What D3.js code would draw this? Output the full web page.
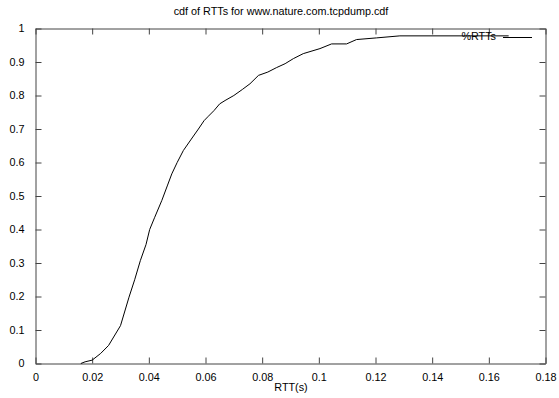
<!DOCTYPE html>
<html><head><meta charset="utf-8">
<script src="https://cdn.jsdelivr.net/npm/d3@7"></script>
<style>body{margin:0;background:#fff}svg{display:block}text{font-family:"Liberation Sans",Arial,sans-serif;font-size:10.8px;fill:#000}</style>
</head><body>
<script>
const rtt = [0.0160,0.0175,0.0200,0.0230,0.0258,0.0300,0.0330,0.0350,0.0370,0.0390,0.0403,0.0420,0.0446,0.0465,0.0481,0.0500,0.0522,0.0550,0.0575,0.0595,0.0610,0.0630,0.0650,0.0669,0.0700,0.0730,0.0757,0.0787,0.0820,0.0850,0.0881,0.0910,0.0945,0.1004,0.1045,0.1098,0.1133,0.1204,0.1286,0.1670];
const cdf = [0.000,0.005,0.010,0.030,0.054,0.113,0.198,0.250,0.307,0.355,0.400,0.435,0.487,0.530,0.566,0.600,0.636,0.670,0.700,0.725,0.738,0.755,0.775,0.785,0.800,0.818,0.835,0.860,0.870,0.883,0.895,0.910,0.925,0.940,0.954,0.954,0.967,0.972,0.978,0.978];
const xTicks = [0,0.02,0.04,0.06,0.08,0.1,0.12,0.14,0.16,0.18];
const yTicks = [0,0.1,0.2,0.3,0.4,0.5,0.6,0.7,0.8,0.9,1];
const title = "cdf of RTTs for www.nature.com.tcpdump.cdf";
const xLabel = "RTT(s)";
const seriesName = "%RTTs";

const W=559,H=398, L=35.5, R=545.5, T=28.5, B=363.5;
const FS=10.8;
const svg=d3.select("body").append("svg").attr("width",W).attr("height",H);
const x=d3.scaleLinear().domain([0,0.18]).range([L,R]);
const y=d3.scaleLinear().domain([0,1]).range([B,T]);
const axColor="#444";
const fmt=d => String(+d.toFixed(2));

const gx=svg.append("g").attr("transform",`translate(0,${B})`)
  .call(d3.axisBottom(x).tickValues(xTicks).tickFormat(fmt).tickSizeInner(-6).tickSizeOuter(0).tickPadding(10));
const gxt=svg.append("g").attr("transform",`translate(0,${T})`)
  .call(d3.axisTop(x).tickValues(xTicks).tickFormat("").tickSizeInner(-6).tickSizeOuter(0));
const gy=svg.append("g").attr("transform",`translate(${L},0)`)
  .call(d3.axisLeft(y).tickValues(yTicks).tickFormat(fmt).tickSizeInner(-6).tickSizeOuter(0).tickPadding(11));
const gyr=svg.append("g").attr("transform",`translate(${R},0)`)
  .call(d3.axisRight(y).tickValues(yTicks).tickFormat("").tickSizeInner(-6).tickSizeOuter(0));
[gx,gxt,gy,gyr].forEach(g=>{
  g.selectAll("path").attr("stroke",axColor);
  g.selectAll("line").attr("stroke",axColor);
  g.selectAll("text").attr("font-size",FS).attr("font-family","Liberation Sans, Arial, sans-serif").attr("fill","#000");
});

svg.append("text").attr("x",281).attr("y",15).attr("text-anchor","middle").text(title);
svg.append("text").attr("x",291).attr("y",391).attr("text-anchor","middle").text(xLabel);

const pts=rtt.map((v,i)=>[v,cdf[i]]);
svg.append("path").datum(pts).attr("fill","none").attr("stroke","#000").attr("stroke-width",1)
  .attr("d",d3.line().x(d=>x(d[0])).y(d=>y(d[1])));

// legend
svg.append("text").attr("x",496).attr("y",40).attr("text-anchor","end").text(seriesName);
svg.append("line").attr("x1",503).attr("x2",532).attr("y1",37.5).attr("y2",37.5).attr("stroke","#000").attr("stroke-width",1);
</script>
</body></html>
